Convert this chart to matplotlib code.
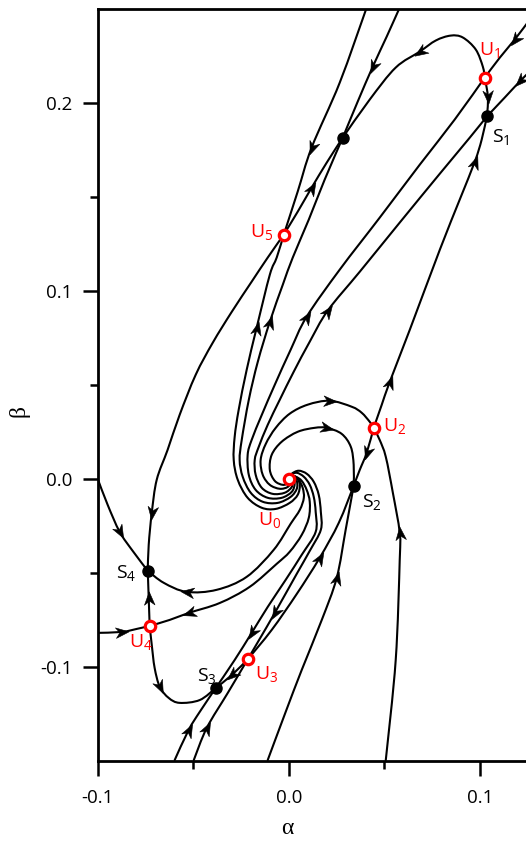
import numpy as np
import matplotlib
matplotlib.use('Agg')
import matplotlib.pyplot as plt
from matplotlib.path import Path
from matplotlib.patches import PathPatch
from matplotlib.markers import MarkerStyle
from matplotlib.transforms import Affine2D

plt.rcParams['font.family'] = ['Open Sans', 'DejaVu Sans']
plt.rcParams['mathtext.fontset'] = 'custom'
plt.rcParams['mathtext.rm'] = 'Open Sans'

# trajectories, (alpha, beta) in units of 1e-3, listed along the flow
top_to_u5 = [(40.8, 250.5), (26.7, 210.6), (12.0, 176.1), (4.7, 152.7), (-2.6, 129.8)]
u0_to_u5 = [(0, 0), (1.6, 1.6), (4.2, 0.5), (5.8, -3.2), (4.7, -8.5), (0.5, -12.8), (-6.8, -16.0),
            (-14.1, -15.4), (-21.5, -10.1), (-26.7, -0.5), (-28.8, 10.1), (-28.3, 22.3), (-26.2, 36.7),
            (-22.0, 58.0), (-16.8, 80.3), (-9.9, 108.5), (-6.3, 117.6), (-2.6, 129.8)]
u5_to_dot = [(-2.6, 129.8), (4.7, 142.0), (12.0, 154.8), (19.9, 168.1), (28.3, 181.4)]
u5_to_s4 = [(-2.6, 129.8), (-11.0, 117.6), (-19.4, 104.8), (-29.8, 88.8), (-39.8, 72.3), (-48.7, 55.3),
            (-57.1, 34.0), (-63.4, 15.4), (-69.1, -0.5), (-71.7, -18.1), (-73.3, -35.1), (-73.8, -48.9)]
top_to_dot = [(58.1, 250.5), (51.3, 235.1), (44.0, 219.1), (36.1, 200.5), (28.3, 181.4)]
u1_to_dot = [(102.6, 213.3), (101.6, 219.1), (97.9, 228.2), (91.1, 234.6), (84.8, 235.6), (77.0, 233.0),
             (68.6, 227.1), (56.0, 218.6), (42.4, 201.6), (28.3, 181.4)]
u0_to_dot = [(0, 0), (2.1, 1.1), (4.2, -1.1), (4.2, -5.3), (1.0, -9.6), (-5.8, -12.8), (-13.6, -12.2),
             (-19.9, -7.4), (-24.1, 1.1), (-25.7, 10.1), (-24.6, 20.7), (-20.9, 42.0), (-16.2, 62.2),
             (-9.9, 83.5), (-3.1, 103.2), (2.1, 117.6), (10.5, 137.8), (18.8, 159.0), (28.3, 181.4)]
u0_to_u1 = [(0, 0), (2.1, 0), (3.1, -2.7), (1.6, -6.9), (-3.7, -10.1), (-11.0, -10.1), (-17.3, -5.9),
            (-20.9, 2.1), (-21.5, 12.8), (-19.4, 20.7), (-14.1, 34.0), (-7.3, 50.0), (1.0, 68.6),
            (9.4, 86.2), (26.7, 111.2), (47.6, 138.8), (68.6, 167.0), (86.9, 191.0), (102.6, 213.3)]
u0_to_s1 = [(0, 0), (1.6, -1.1), (1.6, -4.3), (-2.1, -7.4), (-8.4, -8.0), (-14.1, -4.8), (-17.3, 2.1),
            (-17.8, 10.1), (-15.7, 17.0), (-11.0, 28.7), (-4.7, 42.0), (2.6, 56.9), (11.0, 72.9),
            (20.4, 89.4), (37.2, 110.1), (58.1, 136.2), (79.1, 162.2), (94.8, 181.4), (103.7, 192.6)]
u0_to_u2 = [(0, 0), (1.0, -1.6), (-0.5, -4.3), (-4.7, -5.3), (-9.9, -3.2), (-13.6, 2.1), (-14.7, 10.1),
            (-12.0, 18.6), (-6.8, 27.1), (0.5, 34.6), (9.9, 39.4), (21.5, 41.5), (33.0, 38.3),
            (38.2, 35.1), (42.4, 30.3), (44.5, 27.2)]
u0_to_s2 = [(0, 0), (0, -2.1), (-3.1, -3.2), (-7.3, -1.1), (-9.9, 4.8), (-8.9, 12.8), (-3.7, 19.7),
            (4.7, 25.0), (13.6, 27.1), (19.9, 27.1), (27.7, 23.9), (32.5, 17.0), (34.0, 7.4), (34.0, -3.7)]
u0_to_u3 = [(0, 0), (1.6, 2.7), (5.2, 4.3), (9.4, 2.7), (13.1, -1.6), (15.7, -8.5), (16.8, -17.6),
            (16.8, -27.1), (11.0, -38.3), (4.2, -50.5), (-7.3, -71.3), (-15.2, -85.1), (-21.5, -96.0)]
u0_to_s3 = [(0, 0), (1.0, 2.1), (4.2, 3.2), (7.9, 1.1), (11.0, -3.2), (13.1, -9.6), (14.1, -17.6),
            (14.1, -28.2), (6.8, -40.4), (-1.6, -53.7), (-11.0, -68.1), (-19.4, -81.9), (-28.3, -96.3),
            (-38.2, -111.2)]
u0_to_u4 = [(0, 0), (1.0, 1.1), (3.7, 1.1), (6.8, -1.1), (9.4, -5.9), (11.0, -12.2), (10.5, -20.7),
            (6.8, -29.8), (0.5, -38.8), (-6.3, -45.2), (-20.4, -57.4), (-36.1, -66.0), (-52.4, -71.3),
            (-62.3, -75.0), (-72.8, -78.2)]
u0_to_s4 = [(0, 0), (0.5, 1.6), (2.6, 1.6), (5.2, -0.5), (7.3, -4.8), (7.9, -10.1), (5.8, -16.5),
            (1.0, -23.9), (-7.9, -37.8), (-22.0, -52.1), (-37.7, -59.0), (-53.4, -60.1), (-65.4, -55.3),
            (-73.8, -48.9)]
corner_to_u1 = [(126.2, 244.1), (118.3, 233.5), (110.5, 223.9), (102.6, 213.3)]
edge_to_s1 = [(126.2, 216.5), (120.9, 211.2), (113.1, 202.7), (103.7, 192.6)]
u1_to_s1 = [(102.6, 213.3), (103.7, 207.4), (104.2, 203.2), (104.2, 197.9), (103.7, 192.6)]
u2_to_s1 = [(44.5, 27.2), (48.7, 39.4), (52.9, 51.6), (63.4, 79.3), (79.1, 121.8), (89.5, 148.4),
            (97.4, 168.6), (101.0, 180.3), (103.7, 192.6)]
u2_to_s2 = [(44.5, 27.2), (40.8, 13.8), (37.2, 4.8), (34.0, -3.7)]
bottom_to_u2 = [(50.8, -149.5), (56.0, -96.3), (58.1, -43.1), (58.1, -28.7), (54.5, -7.4), (50.8, 11.7),
                (47.6, 20.7), (44.5, 27.2)]
bottom_to_s2 = [(-11.0, -149.5), (-1.6, -123.9), (6.8, -101.6), (17.3, -75.0), (25.1, -52.7),
                (29.8, -27.1), (34.0, -3.7)]
u3_to_s2 = [(-21.5, -96.0), (-8.9, -80.3), (4.2, -61.2), (16.2, -42.0), (26.2, -23.4), (34.0, -3.7)]
bottom_to_u3 = [(-49.7, -149.5), (-42.9, -132.4), (-31.9, -113.8), (-21.5, -96.0)]
bottom_to_s3 = [(-59.7, -149.5), (-52.4, -133.5), (-46.6, -123.9), (-38.2, -111.2)]
u3_to_s3 = [(-21.5, -96.0), (-29.8, -104.3), (-38.2, -111.2)]
u4_to_s3 = [(-72.8, -78.2), (-71.7, -88.3), (-70.2, -100.5), (-67.5, -110.6), (-62.8, -116.5),
            (-57.1, -119.1), (-46.6, -117.6), (-38.2, -111.2)]
u4_to_s4 = [(-72.8, -78.2), (-73.3, -63.3), (-73.8, -48.9)]
edge_to_u4 = [(-100.5, -81.9), (-87.4, -81.4), (-79.6, -79.8), (-72.8, -78.2)]
edge_to_s4 = [(-100.0, 0.0), (-94.8, -13.8), (-88.5, -28.2), (-81.7, -38.3), (-73.8, -48.9)]

# equilibria (units of 1e-3)
unstable_names = ['U0', 'U1', 'U2', 'U3', 'U4', 'U5']
unstable_pts = [(0, 0), (102.6, 213.3), (44.5, 27.2), (-21.5, -96.0), (-72.8, -78.2), (-2.6, 129.8)]
stable_names = ['S1', 'S2', 'S3', 'S4', '']
stable_pts = [(103.7, 192.6), (34.0, -3.7), (-38.2, -111.2), (-73.8, -48.9), (28.3, 181.4)]

# which vertex of each trajectory carries an arrowhead
trajectories = [
    (top_to_u5, [2]), (u0_to_u5, [14]), (u5_to_dot, [2]), (u5_to_s4, [9]), (top_to_dot, [2]),
    (u1_to_dot, [6]), (u0_to_dot, [13]), (u0_to_u1, [13]), (u0_to_s1, [13]), (u0_to_u2, [11]),
    (u0_to_s2, [9]), (u0_to_u3, [10]), (u0_to_s3, [11]), (u0_to_u4, [12]), (u0_to_s4, [11]),
    (corner_to_u1, [1]), (edge_to_s1, [1]), (u1_to_s1, [2]), (u2_to_s1, [2, 6]), (u2_to_s2, [1]),
    (bottom_to_u2, [3]), (bottom_to_s2, [4]), (u3_to_s2, [3]), (bottom_to_u3, [1]),
    (bottom_to_s3, [1]), (u3_to_s3, [1]), (u4_to_s3, [3]), (u4_to_s4, [1]), (edge_to_u4, [1]),
    (edge_to_s4, [2]),
]

# label anchor (units of 1e-3) and alignment
label_pos = {
    'U0': ((-15.9, -22.3), 'left'), 'U1': ((105.0, 227.3), 'center'), 'U2': ((49.2, 27.7), 'left'),
    'U3': ((-17.6, -104.3), 'left'), 'U4': ((-83.6, -87.4), 'left'), 'U5': ((-8.2, 130.7), 'right'),
    'S1': ((106.3, 181.4), 'left'), 'S2': ((38.6, -12.6), 'left'), 'S3': ((-48.2, -105.2), 'left'),
    'S4': ((-79.9, -50.7), 'right'),
}


def smooth_path(pts):
    p = np.asarray(pts, float)
    ext = np.vstack([p[0], p, p[-1]])
    verts = [p[0]]
    codes = [Path.MOVETO]
    for i in range(len(p) - 1):
        p0, p1, p2, p3 = ext[i], ext[i + 1], ext[i + 2], ext[i + 3]
        verts += [p1 + (p2 - p0) / 6, p2 - (p3 - p1) / 6, p2]
        codes += [Path.CURVE4] * 3
    return Path(verts, codes)


arrow_head = Path([(1, 0), (-1, 0.8), (-0.4, 0), (-1, -0.8), (1, 0)],
                  [Path.MOVETO, Path.LINETO, Path.LINETO, Path.LINETO, Path.CLOSEPOLY])

fig = plt.figure(figsize=(5.26, 8.41), dpi=100)
ax = fig.add_axes([97.7 / 526, 80 / 841, 1 - 97.7 / 526, (761 - 8.5) / 841])
ax.set_xlim(-0.1, 0.1242)
ax.set_ylim(-0.15, 0.25)

for pts, arrows in trajectories:
    p = np.asarray(pts, float) * 1e-3
    ax.add_patch(PathPatch(smooth_path(p), fc='none', ec='black', lw=1.5,
                           capstyle='round', joinstyle='round', zorder=2))
    disp = ax.transData.transform(p)
    for i in arrows:
        d = disp[i + 1] - disp[i - 1]
        ang = np.degrees(np.arctan2(d[1], d[0]))
        m = MarkerStyle(arrow_head, transform=Affine2D().rotate_deg(ang))
        ax.plot(p[i, 0], p[i, 1], marker=m, ms=9.5, color='black', mfc='black',
                mec='black', mew=0.4, ls='none', zorder=3)

sx, sy = np.array(stable_pts).T * 1e-3
ax.plot(sx, sy, 'o', ms=8, color='black', zorder=4)
ux, uy = np.array(unstable_pts).T * 1e-3
ax.plot(ux, uy, 'o', ms=7.5, mfc='white', mec='#ff0000', mew=2.3, zorder=5)

for name in unstable_names + stable_names:
    if not name:
        continue
    (lx, ly), ha = label_pos[name]
    col = '#ff0000' if name[0] == 'U' else 'black'
    ax.text(lx * 1e-3, ly * 1e-3, r'$\mathrm{%s}_{%s}$' % (name[0], name[1]),
            color=col, fontsize=14, ha=ha, va='center', zorder=6)

ax.spines['right'].set_visible(False)
for s in ['left', 'bottom', 'top']:
    ax.spines[s].set_linewidth(2.0)

ax.set_xticks([-0.1, 0.0, 0.1])
ax.set_xticklabels(['-0.1', '0.0', '0.1'])
ax.set_xticks([-0.05, 0.05], minor=True)
ax.set_yticks([-0.1, 0.0, 0.1, 0.2])
ax.set_yticklabels(['-0.1', '0.0', '0.1', '0.2'])
ax.set_yticks([-0.05, 0.05, 0.15], minor=True)
ax.tick_params(which='major', direction='out', length=11, width=1.8, labelsize=13.5)
ax.tick_params(which='minor', direction='out', length=5.5, width=1.8)
ax.tick_params(axis='x', pad=9)
ax.tick_params(axis='y', pad=7)

fig.text(287 / 526, 1 - 839 / 841, 'α', family='Liberation Serif', fontsize=17,
         ha='center', va='bottom')
fig.text(19 / 526, 1 - 411 / 841, 'β', family='Liberation Serif', fontsize=17,
         ha='center', va='center', rotation=90)

fig.savefig('out.png', dpi=100)
